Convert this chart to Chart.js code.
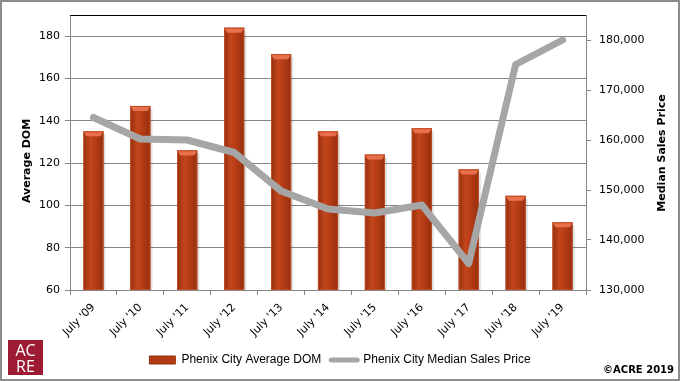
<!DOCTYPE html>
<html><head><meta charset="utf-8">
<script src="https://cdn.jsdelivr.net/npm/chart.js@4/dist/chart.umd.min.js"></script>
<style>html,body{margin:0;padding:0;background:#fff}#wrap{width:680px;height:381px;position:relative}</style>
</head><body><div id="wrap"><canvas id="c" width="680" height="381"></canvas></div>
<script>
const categories = ["July '09","July '10","July '11","July '12","July '13","July '14","July '15","July '16","July '17","July '18","July '19"];
const avgDom = [135, 147, 126, 184, 171.5, 135, 124, 136.5, 117, 104.5, 92];
const medianPrice = [164500, 160200, 160000, 157500, 149800, 146200, 145400, 147000, 135300, 175100, 180000];
const leftTicks = [60, 80, 100, 120, 140, 160, 180];
const rightTicks = [130000, 140000, 150000, 160000, 170000, 180000];
const seriesNames = ["Phenix City Average DOM", "Phenix City Median Sales Price"];
const leftTitle = "Average DOM";
const rightTitle = "Median Sales Price";
const copyright = "\u00A9ACRE 2019";

const BAR = '#b23a14', BAR_DARK = '#92300e', BAR_LIGHT = '#c4461c', BEVEL = '#e8704c';
const LINE = '#a6a6a6', GRID = '#868686';

const decor = {
  id: 'decor',
  beforeDraw(chart) {
    const c = chart.ctx;
    c.save();
    c.fillStyle = '#fff';
    c.fillRect(0, 0, chart.width, chart.height);
    c.restore();
  },
  afterDatasetDraw(chart, args) {
    if (args.index !== 0) return;
    const c = chart.ctx, a = chart.chartArea;
    const meta = args.meta;
    c.save();
    c.beginPath();
    c.rect(a.left, a.top, a.right - a.left + 3, a.bottom - a.top);
    c.clip();
    meta.data.forEach(el => {
      const p = el.getProps(['x', 'y', 'base', 'width'], true);
      const l = p.x - p.width / 2, r = p.x + p.width / 2, t = p.y, b = Math.min(p.base, a.bottom);
      c.fillStyle = 'rgba(0,0,0,0.12)';
      c.fillRect(r, t + 3, 2, b - t - 3);
      const g = c.createLinearGradient(l, 0, r, 0);
      g.addColorStop(0, BAR_DARK);
      g.addColorStop(0.35, BAR_LIGHT);
      g.addColorStop(0.65, BAR);
      g.addColorStop(1, BAR_DARK);
      c.fillStyle = g;
      c.fillRect(l, t, r - l, b - t);
      c.fillStyle = BEVEL;
      c.beginPath();
      c.moveTo(l, t); c.lineTo(r, t); c.lineTo(r - 3, t + 5); c.lineTo(l + 3, t + 5); c.closePath();
      c.fill();
      c.strokeStyle = '#c24a25';
      c.lineWidth = 1;
      c.strokeRect(l + 0.5, t + 0.5, r - l - 1, b - t - 1);
    });
    c.restore();
  },
  afterDraw(chart) {
    const c = chart.ctx, a = chart.chartArea;
    c.save();
    c.strokeStyle = '#000';
    c.lineWidth = 1;
    c.beginPath(); c.moveTo(a.left, a.top + 0.5); c.lineTo(a.right, a.top + 0.5); c.stroke();
    c.fillStyle = '#000';
    c.font = 'bold 11px "DejaVu Sans"';
    c.textAlign = 'center'; c.textBaseline = 'middle';
    c.save(); c.translate(27, 161); c.rotate(-Math.PI / 2); c.fillText(leftTitle, 0, 0); c.restore();
    c.save(); c.translate(662, 153); c.rotate(-Math.PI / 2); c.fillText(rightTitle, 0, 0); c.restore();
    c.font = 'bold 10px "DejaVu Sans"';
    c.textAlign = 'right';
    c.fillText(copyright, 674, 370);
    c.fillStyle = '#9e1c33';
    c.fillRect(8, 340, 35, 35);
    c.fillStyle = '#fff';
    c.font = '16px "Open Sans"';
    c.textAlign = 'center';
    c.fillText('AC', 25.5, 351.5);
    c.fillText('RE', 25.5, 367);
    c.strokeStyle = '#8c8c8c';
    c.lineWidth = 2;
    c.strokeRect(1, 1, chart.width - 2, chart.height - 2);
    c.restore();
  }
};

new Chart(document.getElementById('c'), {
  type: 'bar',
  data: {
    labels: categories,
    datasets: [
      { type: 'bar', label: seriesNames[0], data: avgDom, yAxisID: 'y', order: 1,
        backgroundColor: 'rgba(0,0,0,0)', borderWidth: 0, barPercentage: 0.43, categoryPercentage: 1 },
      { type: 'line', label: seriesNames[1], data: medianPrice, yAxisID: 'y1', order: 0,
        borderColor: LINE, backgroundColor: LINE, borderWidth: 7, pointRadius: 0, tension: 0,
        borderCapStyle: 'round', borderJoinStyle: 'round' }
    ]
  },
  options: {
    responsive: false,
    animation: false,
    devicePixelRatio: 1,
    layout: { padding: { top: 15, left: 0, right: 0, bottom: 5 } },
    plugins: {
      tooltip: { enabled: false },
      legend: {
        position: 'bottom',
        labels: {
          font: { family: '"Liberation Sans"', size: 12 },
          color: '#000',
          usePointStyle: true,
          pointStyleWidth: 26,
          boxHeight: 8,
          padding: 10,
          generateLabels(chart) {
            return [
              { text: seriesNames[0], pointStyle: 'rect', fillStyle: BAR, strokeStyle: BAR_DARK, lineWidth: 1, datasetIndex: 0, fontColor: '#000' },
              { text: seriesNames[1], pointStyle: 'line', fillStyle: LINE, strokeStyle: LINE, lineWidth: 5, lineCap: 'round', datasetIndex: 1, fontColor: '#000' }
            ];
          }
        }
      }
    },
    scales: {
      x: {
        offset: true,
        grid: { display: true, drawOnChartArea: false, color: GRID, tickLength: 5, offset: true },
        border: { color: GRID },
        ticks: { font: { family: '"DejaVu Sans"', size: 11 }, color: '#000', minRotation: 45, maxRotation: 45, padding: 6 },
        afterFit(s) { s.height = 54; }
      },
      y: {
        position: 'left', min: 60, max: 190,
        ticks: { font: { family: '"DejaVu Sans"', size: 11 }, color: '#000', padding: 5 },
        grid: { color: GRID, tickLength: 5 },
        border: { color: GRID },
        afterBuildTicks(s) { s.ticks = leftTicks.map(v => ({ value: v })); },
        afterFit(s) { s.width = 70; }
      },
      y1: {
        position: 'right', min: 130000, max: 185000,
        ticks: { font: { family: '"DejaVu Sans"', size: 11 }, color: '#000', padding: 8,
          callback: v => v.toLocaleString('en-US') },
        grid: { drawOnChartArea: false, color: GRID, tickLength: 5 },
        border: { color: GRID },
        afterBuildTicks(s) { s.ticks = rightTicks.map(v => ({ value: v })); },
        afterFit(s) { s.width = 94; }
      }
    }
  },
  plugins: [decor]
});
</script></body></html>
